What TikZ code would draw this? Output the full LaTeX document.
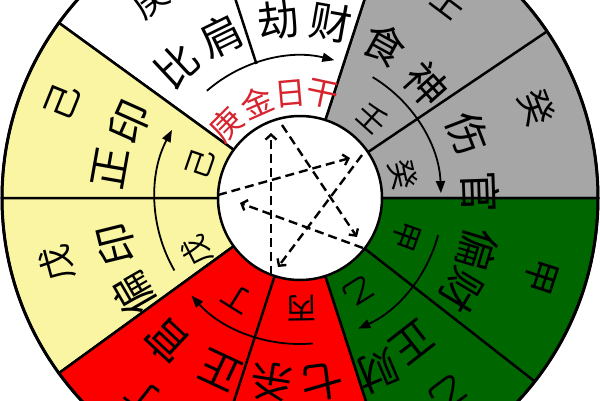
\documentclass[tikz,border=0pt]{standalone}
\usepackage{fontspec}
\usepackage{tikz}
\usetikzlibrary{positioning, arrows.meta}

\newfontfamily\cjk{Noto Sans CJK SC}

\definecolor{tuyellow}{RGB}{250,245,162}
\definecolor{shuigray}{RGB}{166,166,166}
\definecolor{mugreen}{RGB}{0,102,0}
\definecolor{huored}{RGB}{252,0,0}
\definecolor{riganred}{RGB}{215,35,45}

\tikzset{
	gan/.style = {font=\cjk\fontsize{30}{30}\selectfont, inner sep=0pt},
	waigan/.style = {font=\cjk\fontsize{36}{36}\selectfont, inner sep=0pt},
	shishen/.style = {font=\cjk\fontsize{42}{42}\selectfont, inner sep=0pt},
	rigan/.style = {font=\cjk\fontsize{32}{32}\selectfont, inner sep=0pt, text=riganred},
	sheng/.style = {line width=1.8pt, -{Triangle[length=12pt, width=9pt]}},
	ke/.style = {line width=2.4pt, dash pattern=on 9pt off 5pt, -{Straight Barb[length=5pt, width=11pt]}}
}

\begin{document}
\begin{tikzpicture}[x=1pt, y=1pt]
		\useasboundingbox (-300,-202) rectangle (300,198);
		\clip (-300,-202) rectangle (300,198);
		\fill[white] (-300,-202) rectangle (300,198);

		% five elements
		\filldraw[fill = shuigray, draw = black, line width = 2.5pt] (0,0) -- (0:298) arc[start angle=0, end angle=72, radius=298] -- cycle;
		\filldraw[fill = white, draw = black, line width = 2.5pt] (0,0) -- (72:298) arc[start angle=72, end angle=144, radius=298] -- cycle;
		\filldraw[fill = tuyellow, draw = black, line width = 2.5pt] (0,0) -- (144:298) arc[start angle=144, end angle=216, radius=298] -- cycle;
		\filldraw[fill = huored, draw = black, line width = 2.5pt] (0,0) -- (216:298) arc[start angle=216, end angle=288, radius=298] -- cycle;
		\filldraw[fill = mugreen, draw = black, line width = 2.5pt] (0,0) -- (288:298) arc[start angle=288, end angle=360, radius=298] -- cycle;
		\draw[line width = 2.5pt] (34:82) -- (34:298) (180:82) -- (180:298) (252:82) -- (252:298) (322:82) -- (322:298);
		\draw[line width = 2.5pt] (108:141) -- (108:298);
		\draw[line width = 3pt] (0,0) circle (298);
		\filldraw[fill = white, draw = black, line width = 2.5pt] (0,0) circle (82);

		% metal
		\node[shishen, rotate=43] (bi) at (133:181) {比};
		\node[shishen, rotate=26] (jian) at (116:180) {肩};
		\node[shishen, rotate=7] (jie) at (97:179) {劫};
		\node[shishen, rotate=-10] (cai1) at (80:178) {财};
		\node[rigan, rotate=45] (geng) at (135:104) {庚};
		\node[rigan, rotate=24] (jin) at (114:105) {金};
		\node[rigan, rotate=5] (ri) at (95:104) {日};
		\node[rigan, rotate=-12] (gan) at (78:106) {干};
		\node[waigan, rotate=37] (gengw) at (127:250) {庚};
		\draw[sheng] (131:142) arc[start angle=131, end angle=76, radius=142];

		% water
		\node[gan, rotate=-42] (ren) at (48:108) {壬};
		\node[gan, rotate=-77] (gui) at (13:106) {癸};
		\node[shishen, rotate=-29] (shi) at (61:175) {食};
		\node[shishen, rotate=-48] (shen) at (42:170) {神};
		\node[shishen, rotate=-69] (shang) at (21:180) {伤};
		\node[shishen, rotate=-88] (guan1) at (2:180) {官};
		\node[waigan, rotate=-37] (renw) at (53:248) {壬};
		\node[waigan, rotate=-69] (guiw) at (21:254) {癸};
		\draw[sheng] (59:141) arc[start angle=59, end angle=2, radius=141];

		% wood
		\node[gan, rotate=-110] (jia) at (-20:113) {甲};
		\node[gan, rotate=-148] (yi) at (-58:110) {乙};
		\node[shishen, rotate=-107] (pian1) at (-16:185) {偏};
		\node[shishen, rotate=-121] (cai2) at (-30:186) {财};
		\node[shishen, rotate=-142] (zheng1) at (-52:183) {正};
		\node[shishen, rotate=-157] (cai3) at (-66:190) {财};
		\node[waigan, rotate=-108] (jiaw) at (-18:253) {甲};
		\node[waigan, rotate=-143] (yiw) at (-53:245) {乙};
		\draw[sheng] (-15:143) arc[start angle=-15, end angle=-66, radius=143];

		% fire
		\node[gan, rotate=181] (bing) at (271:110) {丙};
		\node[gan, rotate=148] (ding) at (238:118) {丁};
		\node[shishen, rotate=187] (qi) at (277:186) {七};
		\node[shishen, rotate=171] (sha) at (261:186) {杀};
		\node[shishen, rotate=155] (zheng2) at (245:190) {正};
		\node[shishen, rotate=137] (guan2) at (227:195) {官};
		\node[waigan, rotate=142] (dingw) at (232:252) {丁};
		\draw[sheng] (275:146) arc[start angle=275, end angle=222, radius=146];

		% earth
		\node[gan, rotate=117] (wu) at (207:116) {戊};
		\node[gan, rotate=71] (ji) at (161:106) {己};
		\node[shishen, rotate=120] (pian2) at (210:192) {偏};
		\node[shishen, rotate=104] (yin1) at (194:189) {印};
		\node[shishen, rotate=80] (zheng3) at (171:192) {正};
		\node[shishen, rotate=66] (yin2) at (156:186) {印};
		\node[waigan, rotate=105] (wuw) at (195:252) {戊};
		\node[waigan, rotate=68] (jiw) at (158:257) {己};
		\draw[sheng] (210:145) arc[start angle=210, end angle=152, radius=145];

		% ke star
		\coordinate (huo) at (-29,-77);
		\coordinate (jin1) at (-29,65);
		\coordinate (jin2) at (-18,73);
		\coordinate (mu1) at (57,-39);
		\coordinate (tu1) at (-82,3);
		\coordinate (shui1) at (50,40);
		\coordinate (shui2) at (62,43);
		\coordinate (huo2) at (-22,-69);
		\coordinate (mu2) at (63,-50);
		\coordinate (tu2) at (-60,-5);
		\draw[ke] (huo) -- (jin1);
		\draw[ke] (jin2) -- (mu1);
		\draw[ke] (tu1) -- (shui1);
		\draw[ke] (shui2) -- (huo2);
		\draw[ke] (mu2) -- (tu2);
\end{tikzpicture}
\end{document}
